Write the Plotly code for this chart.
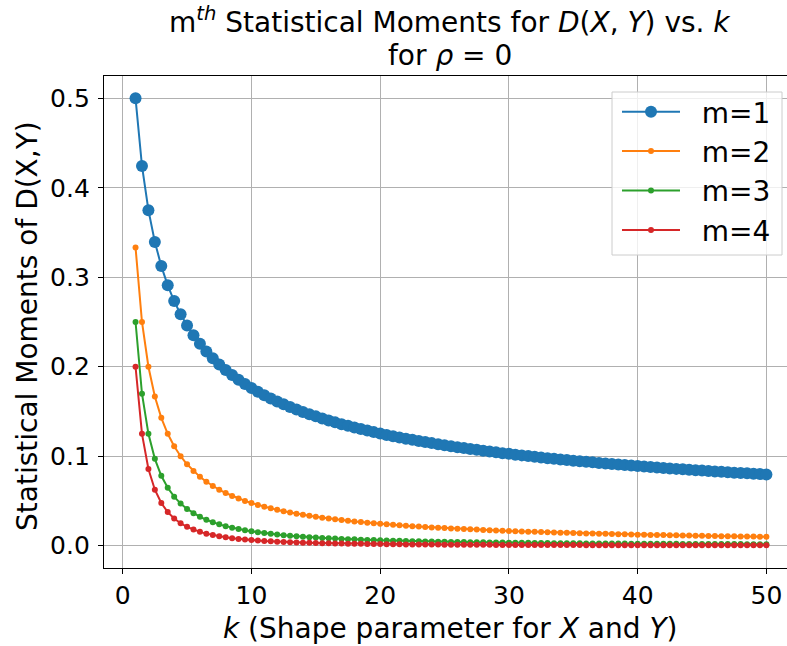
import plotly.graph_objects as go

k_values = [1.0, 1.5, 2.0, 2.5, 3.0, 3.5, 4.0, 4.5, 5.0, 5.5, 6.0, 6.5, 7.0, 7.5, 8.0, 8.5, 9.0, 9.5, 10.0, 10.5,
            11.0, 11.5, 12.0, 12.5, 13.0, 13.5, 14.0, 14.5, 15.0, 15.5, 16.0, 16.5, 17.0, 17.5, 18.0, 18.5, 19.0, 19.5, 20.0, 20.5,
            21.0, 21.5, 22.0, 22.5, 23.0, 23.5, 24.0, 24.5, 25.0, 25.5, 26.0, 26.5, 27.0, 27.5, 28.0, 28.5, 29.0, 29.5, 30.0, 30.5,
            31.0, 31.5, 32.0, 32.5, 33.0, 33.5, 34.0, 34.5, 35.0, 35.5, 36.0, 36.5, 37.0, 37.5, 38.0, 38.5, 39.0, 39.5, 40.0, 40.5,
            41.0, 41.5, 42.0, 42.5, 43.0, 43.5, 44.0, 44.5, 45.0, 45.5, 46.0, 46.5, 47.0, 47.5, 48.0, 48.5, 49.0, 49.5, 50.0]

moment_m1 = [0.5000, 0.4244, 0.3750, 0.3395, 0.3125, 0.2910, 0.2734, 0.2587, 0.2461, 0.2352,
             0.2256, 0.2171, 0.2095, 0.2026, 0.1964, 0.1907, 0.1855, 0.1807, 0.1762, 0.1721,
             0.1682, 0.1646, 0.1612, 0.1580, 0.1550, 0.1521, 0.1494, 0.1469, 0.1445, 0.1422,
             0.1400, 0.1378, 0.1358, 0.1339, 0.1321, 0.1303, 0.1286, 0.1269, 0.1254, 0.1238,
             0.1224, 0.1210, 0.1196, 0.1183, 0.1170, 0.1158, 0.1146, 0.1134, 0.1123, 0.1112,
             0.1101, 0.1091, 0.1081, 0.1071, 0.1061, 0.1052, 0.1043, 0.1034, 0.1026, 0.1017,
             0.1009, 0.1001, 0.0993, 0.0986, 0.0978, 0.0971, 0.0964, 0.0957, 0.0950, 0.0944,
             0.0937, 0.0931, 0.0924, 0.0918, 0.0912, 0.0906, 0.0901, 0.0895, 0.0889, 0.0884,
             0.0878, 0.0873, 0.0868, 0.0863, 0.0858, 0.0853, 0.0848, 0.0843, 0.0839, 0.0834,
             0.0830, 0.0825, 0.0821, 0.0816, 0.0812, 0.0808, 0.0804, 0.0800, 0.0796]

moment_m2 = [0.3333, 0.2500, 0.2000, 0.1667, 0.1429, 0.1250, 0.1111, 0.1000, 0.0909, 0.0833,
             0.0769, 0.0714, 0.0667, 0.0625, 0.0588, 0.0556, 0.0526, 0.0500, 0.0476, 0.0455,
             0.0435, 0.0417, 0.0400, 0.0385, 0.0370, 0.0357, 0.0345, 0.0333, 0.0323, 0.0313,
             0.0303, 0.0294, 0.0286, 0.0278, 0.0270, 0.0263, 0.0256, 0.0250, 0.0244, 0.0238,
             0.0233, 0.0227, 0.0222, 0.0217, 0.0213, 0.0208, 0.0204, 0.0200, 0.0196, 0.0192,
             0.0189, 0.0185, 0.0182, 0.0179, 0.0175, 0.0172, 0.0169, 0.0167, 0.0164, 0.0161,
             0.0159, 0.0156, 0.0154, 0.0152, 0.0149, 0.0147, 0.0145, 0.0143, 0.0141, 0.0139,
             0.0137, 0.0135, 0.0133, 0.0132, 0.0130, 0.0128, 0.0127, 0.0125, 0.0123, 0.0122,
             0.0120, 0.0119, 0.0118, 0.0116, 0.0115, 0.0114, 0.0112, 0.0111, 0.0110, 0.0109,
             0.0108, 0.0106, 0.0105, 0.0104, 0.0103, 0.0102, 0.0101, 0.0100, 0.0099]

moment_m3 = [0.2500, 0.1698, 0.1250, 0.0970, 0.0781, 0.0647, 0.0547, 0.0470, 0.0410, 0.0362,
             0.0322, 0.0289, 0.0262, 0.0238, 0.0218, 0.0201, 0.0185, 0.0172, 0.0160, 0.0150,
             0.0140, 0.0132, 0.0124, 0.0117, 0.0111, 0.0105, 0.0100, 0.0095, 0.0090, 0.0086,
             0.0082, 0.0079, 0.0075, 0.0072, 0.0070, 0.0067, 0.0064, 0.0062, 0.0060, 0.0058,
             0.0056, 0.0054, 0.0052, 0.0050, 0.0049, 0.0047, 0.0046, 0.0044, 0.0043, 0.0042,
             0.0041, 0.0040, 0.0039, 0.0038, 0.0037, 0.0036, 0.0035, 0.0034, 0.0033, 0.0032,
             0.0032, 0.0031, 0.0030, 0.0029, 0.0029, 0.0028, 0.0028, 0.0027, 0.0026, 0.0026,
             0.0025, 0.0025, 0.0024, 0.0024, 0.0023, 0.0023, 0.0023, 0.0022, 0.0022, 0.0021,
             0.0021, 0.0021, 0.0020, 0.0020, 0.0020, 0.0019, 0.0019, 0.0019, 0.0018, 0.0018,
             0.0018, 0.0017, 0.0017, 0.0017, 0.0017, 0.0016, 0.0016, 0.0016, 0.0016]

moment_m4 = [0.2000, 0.1250, 0.0857, 0.0625, 0.0476, 0.0375, 0.0303, 0.0250, 0.0210, 0.0179,
             0.0154, 0.0134, 0.0118, 0.0104, 0.0093, 0.0083, 0.0075, 0.0068, 0.0062, 0.0057,
             0.0052, 0.0048, 0.0044, 0.0041, 0.0038, 0.0036, 0.0033, 0.0031, 0.0029, 0.0028,
             0.0026, 0.0025, 0.0023, 0.0022, 0.0021, 0.0020, 0.0019, 0.0018, 0.0017, 0.0016,
             0.0016, 0.0015, 0.0014, 0.0014, 0.0013, 0.0013, 0.0012, 0.0012, 0.0011, 0.0011,
             0.0010, 0.0010, 0.0010, 0.0009, 0.0009, 0.0009, 0.0008, 0.0008, 0.0008, 0.0008,
             0.0007, 0.0007, 0.0007, 0.0007, 0.0006, 0.0006, 0.0006, 0.0006, 0.0006, 0.0006,
             0.0005, 0.0005, 0.0005, 0.0005, 0.0005, 0.0005, 0.0005, 0.0005, 0.0004, 0.0004,
             0.0004, 0.0004, 0.0004, 0.0004, 0.0004, 0.0004, 0.0004, 0.0004, 0.0004, 0.0003,
             0.0003, 0.0003, 0.0003, 0.0003, 0.0003, 0.0003, 0.0003, 0.0003, 0.0003]

series_names = ["m=1", "m=2", "m=3", "m=4"]
series_values = [moment_m1, moment_m2, moment_m3, moment_m4]
series_colors = ["#1f77b4", "#ff7f0e", "#2ca02c", "#d62728"]
marker_sizes = [12, 6, 6, 6]

x_ticks = [0, 10, 20, 30, 40, 50]
y_ticks = [0.0, 0.1, 0.2, 0.3, 0.4, 0.5]

title_line1 = "m<sup><i>th</i></sup> Statistical Moments for <i>D</i>(<i>X</i>, <i>Y</i>) vs. <i>k</i>"
title_line2 = "for <i>ρ</i> = 0"
x_label = "<i>k</i> (Shape parameter for <i>X</i> and <i>Y</i>)"
y_label = "Statistical Moments of D(X,Y)"

FONT = "DejaVu Sans"
TICK_SIZE = 25
LABEL_SIZE = 28
LEGEND_PAD = "\u2002\u200a"  # gap between legend line and its label

fig = go.Figure()
for name, vals, col, ms in zip(series_names, series_values, series_colors, marker_sizes):
    fig.add_trace(go.Scatter(
        x=k_values, y=vals, name=LEGEND_PAD + name, mode="lines+markers",
        line=dict(color=col, width=2),
        marker=dict(color=col, size=ms, line=dict(width=0)),
        legendgroup=name,
    ))

# plot area: x 104..787, y 76..568 (px)
def px_x(px):
    return (px - 104) / 683.0

def px_y(py):
    return (568 - py) / 492.0

annotations = [
    dict(text=title_line1, x=px_x(450), y=px_y(21), xref="paper", yref="paper",
         xanchor="center", yanchor="middle", showarrow=False,
         font=dict(family=FONT, size=LABEL_SIZE, color="black")),
    dict(text=title_line2, x=px_x(450), y=px_y(56), xref="paper", yref="paper",
         xanchor="center", yanchor="middle", showarrow=False,
         font=dict(family=FONT, size=LABEL_SIZE, color="black")),
    dict(text=x_label, x=px_x(450), y=px_y(628), xref="paper", yref="paper",
         xanchor="center", yanchor="middle", showarrow=False,
         font=dict(family=FONT, size=LABEL_SIZE, color="black")),
    dict(text=y_label, x=px_x(27), y=px_y(326), xref="paper", yref="paper",
         xanchor="center", yanchor="middle", showarrow=False, textangle=-90,
         font=dict(family=FONT, size=LABEL_SIZE, color="black")),
]

# legend frame (semi-transparent white box with light border)
shapes = [
    dict(type="rect", xref="paper", yref="paper",
         x0=px_x(612), x1=px_x(782), y0=px_y(255), y1=px_y(92),
         fillcolor="rgba(255,255,255,0.8)", line=dict(color="#cccccc", width=1),
         layer="above"),
]

fig.update_layout(
    width=787, height=646,
    margin=dict(l=104, r=0, t=76, b=78),
    paper_bgcolor="white", plot_bgcolor="white",
    font=dict(family=FONT, size=TICK_SIZE, color="black"),
    annotations=annotations,
    shapes=shapes,
    showlegend=True,
    legend=dict(
        x=px_x(617), y=px_y(87), xanchor="left", yanchor="top",
        bgcolor="rgba(0,0,0,0)", borderwidth=0,
        font=dict(family=FONT, size=LABEL_SIZE, color="black"),
        traceorder="grouped", tracegroupgap=0, itemwidth=58,
    ),
)

fig.update_xaxes(
    range=[-1.45, 51.6], tickvals=x_ticks, ticktext=[str(t) for t in x_ticks],
    showgrid=True, gridcolor="#b0b0b0", gridwidth=1, zeroline=False,
    showline=True, linecolor="black", linewidth=1.3, mirror=True,
    ticks="outside", ticklen=5, tickcolor="black", tickwidth=1.2,
    tickfont=dict(family=FONT, size=TICK_SIZE, color="black"),
)
fig.update_yaxes(
    range=[-0.025, 0.525], tickvals=y_ticks, ticktext=["%.1f" % t for t in y_ticks],
    showgrid=True, gridcolor="#b0b0b0", gridwidth=1, zeroline=False,
    showline=True, linecolor="black", linewidth=1.3, mirror=False,
    ticks="outside", ticklen=5, tickcolor="black", tickwidth=1.2,
    tickfont=dict(family=FONT, size=TICK_SIZE, color="black"),
    ticklabelstandoff=3,
)

fig.write_html("out.html")
